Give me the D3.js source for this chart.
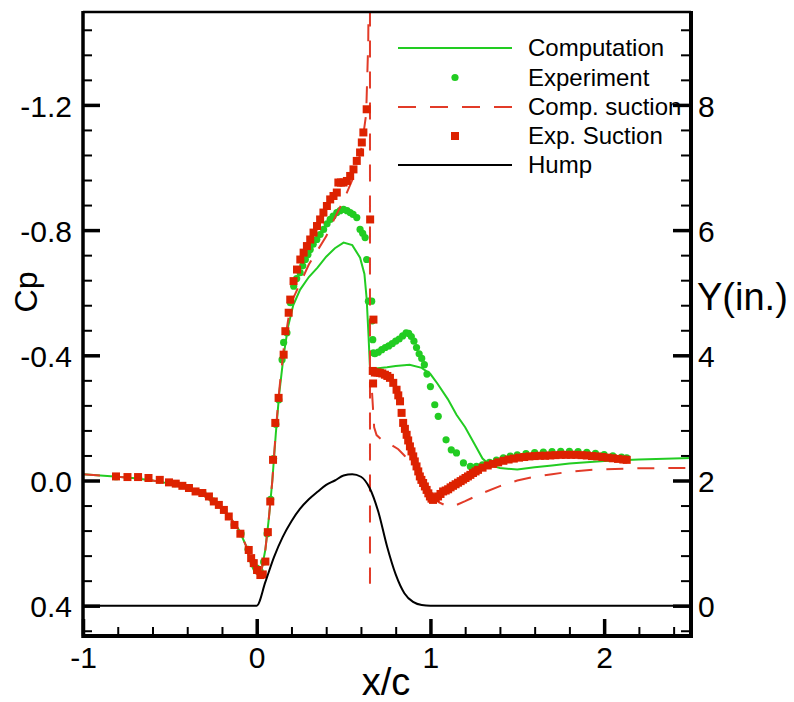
<!DOCTYPE html>
<html>
<head>
<meta charset="utf-8">
<script src="https://cdn.jsdelivr.net/npm/d3@7"></script>
<style>
  body { margin: 0; background: #fff; }
  text { font-family: "Liberation Sans", Arial, sans-serif; fill: #000; }
</style>
</head>
<body>
<div id="chart"></div>
<script>
// series: [x/c, Cp]  (hump is [x/c, Y in inches])
var computation = [
  [-1.0,-0.02],[-0.9,-0.016],[-0.8,-0.012],[-0.7,-0.007],[-0.6,0.0],[-0.5,0.01],[-0.4,0.025],
  [-0.3,0.05],[-0.2,0.09],[-0.15,0.12],[-0.1,0.16],[-0.06,0.21],[-0.03,0.27],[-0.01,0.295],
  [0.01,0.30],[0.03,0.28],[0.05,0.22],[0.07,0.12],[0.09,0.0],[0.11,-0.15],[0.13,-0.28],
  [0.155,-0.40],[0.18,-0.49],[0.21,-0.56],[0.25,-0.61],[0.3,-0.65],[0.35,-0.68],[0.4,-0.715],
  [0.45,-0.742],[0.5,-0.76],[0.55,-0.752],[0.595,-0.712],[0.62,-0.66],[0.633,-0.58],
  [0.643,-0.47],[0.652,-0.36],[0.673,-0.357],[0.75,-0.362],[0.8,-0.366],[0.88,-0.37],
  [0.95,-0.36],[1.0,-0.34],[1.04,-0.31],[1.1,-0.26],[1.15,-0.21],[1.2,-0.17],[1.26,-0.11],
  [1.3,-0.07],[1.34,-0.05],[1.4,-0.04],[1.5,-0.035],[1.6,-0.042],[1.7,-0.048],[1.8,-0.054],
  [1.9,-0.058],[2.0,-0.062],[2.2,-0.067],[2.5,-0.072]
];

var experiment = [
  [-0.81,-0.012],[-0.68,-0.01],[-0.56,-0.002],[-0.47,0.01],[-0.39,0.024],[-0.31,0.04],
  [-0.25,0.066],[-0.19,0.094],[-0.13,0.142],[-0.09,0.17],[-0.05,0.22],[-0.02,0.262],
  [0.0,0.28],[0.02,0.29],[0.04,0.26],[0.06,0.17],[0.08,0.06],[0.097,-0.07],[0.11,-0.18],
  [0.127,-0.258],[0.146,-0.386],[0.155,-0.441],[0.174,-0.472],[0.194,-0.568],[0.213,-0.621],
  [0.23,-0.645],[0.25,-0.664],[0.265,-0.686],[0.28,-0.706],[0.295,-0.722],[0.308,-0.738],
  [0.325,-0.755],[0.346,-0.77],[0.365,-0.786],[0.385,-0.802],[0.405,-0.82],[0.423,-0.834],
  [0.44,-0.845],[0.461,-0.856],[0.48,-0.862],[0.5,-0.866],[0.52,-0.862],[0.538,-0.856],
  [0.555,-0.85],[0.576,-0.84],[0.595,-0.802],[0.61,-0.79],[0.624,-0.776],[0.633,-0.706],
  [0.643,-0.573],[0.662,-0.573],[0.665,-0.51],[0.668,-0.45],[0.672,-0.408],[0.68,-0.405],
  [0.70,-0.41],[0.72,-0.418],[0.74,-0.425],[0.76,-0.43],[0.78,-0.437],[0.80,-0.445],
  [0.82,-0.452],[0.84,-0.462],[0.86,-0.472],[0.875,-0.47],[0.89,-0.46],[0.905,-0.445],
  [0.92,-0.425],[0.935,-0.405],[0.95,-0.39],[0.965,-0.37],[0.98,-0.34],[1.0,-0.30],
  [1.025,-0.242],[1.045,-0.205],[1.09,-0.13],[1.12,-0.098],[1.15,-0.088],[1.19,-0.056],
  [1.23,-0.045],[1.265,-0.045],[1.3,-0.05],[1.34,-0.058],[1.38,-0.065],[1.42,-0.072],
  [1.46,-0.078],[1.5,-0.082],[1.55,-0.086],[1.6,-0.089],[1.65,-0.091],[1.7,-0.092],
  [1.75,-0.093],[1.8,-0.093],[1.85,-0.092],[1.9,-0.09],[1.95,-0.087],[2.0,-0.083],
  [2.05,-0.079],[2.1,-0.075],[2.13,-0.072]
];

// null Cp = break in the curve just after the slot
var compSuction = [
  [-1.0,-0.02],[-0.9,-0.016],[-0.8,-0.012],[-0.7,-0.007],[-0.6,0.0],[-0.5,0.01],[-0.4,0.025],
  [-0.3,0.05],[-0.2,0.09],[-0.15,0.12],[-0.1,0.16],[-0.06,0.21],[-0.03,0.27],[-0.01,0.295],
  [0.01,0.30],[0.03,0.28],[0.05,0.22],[0.07,0.12],[0.09,0.0],[0.11,-0.16],[0.13,-0.29],
  [0.155,-0.42],[0.18,-0.51],[0.2,-0.57],[0.25,-0.63],[0.3,-0.69],[0.35,-0.735],[0.4,-0.78],
  [0.45,-0.84],[0.5,-0.895],[0.55,-0.96],[0.6,-1.05],[0.63,-1.17],[0.642,-1.4],[0.646,-1.7],
  [0.652,-1.7],[0.652,0.33],[0.655,null],[0.664,-0.28],[0.676,-0.17],[0.69,-0.145],
  [0.73,-0.125],[0.77,-0.115],[0.815,-0.1],[0.85,-0.08],[0.9,-0.05],[0.95,-0.01],[1.0,0.035],
  [1.05,0.07],[1.1,0.083],[1.15,0.078],[1.2,0.066],[1.3,0.04],[1.4,0.018],[1.5,0.0],
  [1.6,-0.012],[1.7,-0.02],[1.8,-0.028],[1.9,-0.033],[2.0,-0.036],[2.2,-0.039],[2.5,-0.04]
];

var expSuction = [
  [-0.81,-0.013],[-0.744,-0.011],[-0.683,-0.011],[-0.623,-0.008],[-0.558,-0.002],
  [-0.505,0.006],[-0.466,0.010],[-0.428,0.017],[-0.39,0.024],[-0.352,0.035],[-0.313,0.04],
  [-0.275,0.051],[-0.247,0.067],[-0.218,0.078],[-0.189,0.094],[-0.161,0.115],[-0.128,0.142],
  [-0.094,0.17],[-0.046,0.222],[-0.032,0.248],[-0.017,0.264],[0.002,0.286],[0.021,0.302],
  [0.035,0.30],[0.05,0.259],[0.064,0.165],[0.078,0.067],[0.094,-0.066],[0.107,-0.184],
  [0.126,-0.264],[0.155,-0.402],[0.165,-0.477],[0.184,-0.536],[0.193,-0.578],[0.212,-0.637],
  [0.232,-0.674],[0.251,-0.706],[0.27,-0.728],[0.289,-0.749],[0.308,-0.77],[0.327,-0.792],
  [0.347,-0.813],[0.365,-0.834],[0.384,-0.856],[0.404,-0.877],[0.423,-0.898],[0.442,-0.909],
  [0.461,-0.92],[0.47,-0.952],[0.485,-0.952],[0.5,-0.952],[0.519,-0.957],[0.538,-0.973],
  [0.557,-0.994],[0.576,-1.021],[0.595,-1.048],[0.605,-1.08],[0.614,-1.112],[0.633,-1.186],
  [0.653,-0.834],[0.672,-0.514],[0.668,-0.35],[0.67,-0.31],[0.68,-0.345],[0.695,-0.345],
  [0.709,-0.344],[0.723,-0.342],[0.738,-0.338],[0.752,-0.334],[0.767,-0.328],[0.786,-0.312],
  [0.805,-0.29],[0.815,-0.272],[0.825,-0.253],[0.834,-0.216],[0.843,-0.184],[0.853,-0.165],
  [0.863,-0.146],[0.872,-0.128],[0.882,-0.109],[0.891,-0.093],[0.901,-0.077],[0.91,-0.061],
  [0.92,-0.045],[0.93,-0.029],[0.939,-0.013],[0.948,-0.002],[0.958,0.008],[0.968,0.019],
  [0.978,0.03],[0.988,0.041],[0.997,0.051],[1.006,0.058],[1.015,0.062],[1.03,0.057],
  [1.044,0.051],[1.058,0.043],[1.073,0.035],[1.088,0.032],[1.102,0.028],[1.116,0.022],
  [1.13,0.017],[1.145,0.012],[1.159,0.007],[1.174,0.002],[1.188,-0.003],[1.202,-0.008],
  [1.216,-0.013],[1.23,-0.018],[1.245,-0.024],[1.26,-0.029],[1.274,-0.034],[1.3,-0.041],
  [1.33,-0.048],[1.36,-0.053],[1.39,-0.058],[1.42,-0.063],[1.45,-0.067],[1.48,-0.07],
  [1.51,-0.073],[1.54,-0.075],[1.57,-0.077],[1.6,-0.078],[1.63,-0.079],[1.66,-0.079],
  [1.69,-0.08],[1.72,-0.081],[1.75,-0.082],[1.78,-0.082],[1.81,-0.082],[1.84,-0.082],
  [1.87,-0.081],[1.9,-0.08],[1.93,-0.078],[1.96,-0.077],[1.99,-0.075],[2.02,-0.073],
  [2.05,-0.071],[2.08,-0.069],[2.11,-0.067],[2.13,-0.066]
];

var hump = [
  [-1.0,0],[0.0,0],[0.05,0.38],[0.1,0.78],[0.15,1.1],[0.2,1.35],[0.25,1.55],[0.3,1.7],
  [0.35,1.82],[0.4,1.93],[0.45,2.0],[0.5,2.08],[0.55,2.1],[0.6,2.06],[0.65,1.88],[0.7,1.5],
  [0.75,0.95],[0.8,0.5],[0.85,0.2],[0.9,0.06],[0.95,0.01],[1.0,0],[2.5,0]
];

var xTicks  = [-1, 0, 1, 2];
var cpTicks = [-1.2, -0.8, -0.4, 0.0, 0.4];
var yTicks  = [0, 2, 4, 6, 8];
var legendLabels = ["Computation", "Experiment", "Comp. suction", "Exp. Suction", "Hump"];

var green = "#22cc22", red = "#dd2200", redLine = "#e23b28";

var W = 794, H = 702;
var L = 83, R = 691, T = 11, B = 637;

var svg = d3.select("#chart").append("svg")
    .attr("width", W)
    .attr("height", H);

var x  = d3.scaleLinear().domain([-1, 2.5]).range([L, R]);
var cp = d3.scaleLinear().domain([-1.5, 0.5]).range([T, B]);
var yIn = d3.scaleLinear().domain([-0.5, 9.5]).range([B, T]);

// plain hyphen for negative labels, like the original
var hyphen = fmt => (d => d3.format(fmt)(d).replace("\u2212", "-"));

svg.append("clipPath").attr("id", "plotClip")
  .append("rect").attr("x", L).attr("y", T).attr("width", R - L).attr("height", B - T);

var plot = svg.append("g").attr("clip-path", "url(#plotClip)");

var cpLine = d3.line()
  .defined(d => d[1] != null)
  .x(d => x(d[0])).y(d => cp(d[1]));

// computation
plot.append("path").datum(computation)
  .attr("fill", "none").attr("stroke", green).attr("stroke-width", 2)
  .attr("d", cpLine);

// experiment dots
plot.selectAll(".expDot").data(experiment).enter().append("circle")
  .attr("class", "expDot")
  .attr("cx", d => x(d[0])).attr("cy", d => cp(d[1]))
  .attr("r", 3.6).attr("fill", green);

// computation with suction
plot.append("path").datum(compSuction)
  .attr("fill", "none").attr("stroke", redLine).attr("stroke-width", 2)
  .attr("stroke-dasharray", "17,14")
  .attr("d", cpLine);

// experiment with suction
plot.selectAll(".expSq").data(expSuction).enter().append("rect")
  .attr("class", "expSq")
  .attr("x", d => x(d[0]) - 4).attr("y", d => cp(d[1]) - 4)
  .attr("width", 8).attr("height", 8).attr("fill", red);

// hump geometry on the right axis
plot.append("path").datum(hump)
  .attr("fill", "none").attr("stroke", "#000").attr("stroke-width", 2)
  .attr("d", d3.line().curve(d3.curveMonotoneX).x(d => x(d[0])).y(d => yIn(d[1])));

// axes (ticks point inward)
var font = 30;
var gx = svg.append("g").attr("transform", "translate(0," + (B - 1) + ")")
  .call(d3.axisBottom(x).tickValues(xTicks).tickSize(-17).tickPadding(11).tickFormat(hyphen("d")));
svg.append("g").attr("transform", "translate(0," + (B - 1) + ")")
  .call(d3.axisBottom(x).tickValues(d3.range(-0.8, 2.5, 0.2).filter(v => Math.abs(v - Math.round(v)) > 0.01)).tickSize(-9).tickFormat(""));

var gl = svg.append("g").attr("transform", "translate(" + L + ",0)")
  .call(d3.axisLeft(cp).tickValues(cpTicks).tickSize(-17).tickPadding(11).tickFormat(hyphen(".1f")));
svg.append("g").attr("transform", "translate(" + L + ",0)")
  .call(d3.axisLeft(cp).tickValues(d3.range(-1.44, 0.5, 0.08).filter(v => Math.abs(v / 0.4 - Math.round(v / 0.4)) > 0.01)).tickSize(-9).tickFormat(""));

var gr = svg.append("g").attr("transform", "translate(" + R + ",0)")
  .call(d3.axisRight(yIn).tickValues(yTicks).tickSize(-18).tickPadding(7).tickFormat(d3.format("d")));
svg.append("g").attr("transform", "translate(" + R + ",0)")
  .call(d3.axisRight(yIn).tickValues(d3.range(-0.4, 9.5, 0.4).filter(v => Math.abs(v / 2 - Math.round(v / 2)) > 0.01)).tickSize(-10).tickFormat(""));

svg.selectAll(".domain").remove();
svg.selectAll(".tick line").attr("stroke", "#000").attr("stroke-width", 2);
[gx, gl, gr].forEach(g => g.selectAll(".tick line").attr("stroke-width", 3.5));
svg.selectAll(".tick text").attr("font-size", font).attr("font-family", "Liberation Sans, Arial, sans-serif").attr("fill", "#000");
gl.selectAll(".tick text").attr("dy", "0.37em");
gr.selectAll(".tick text").attr("dy", "0.37em");

// frame
svg.append("line").attr("x1", L).attr("x2", R).attr("y1", T + 1).attr("y2", T + 1).attr("stroke", "#000").attr("stroke-width", 2.5);
svg.append("line").attr("x1", L).attr("x2", R + 2).attr("y1", B - 1).attr("y2", B - 1).attr("stroke", "#000").attr("stroke-width", 4);
svg.append("line").attr("x1", L).attr("x2", L).attr("y1", T).attr("y2", B + 1).attr("stroke", "#000").attr("stroke-width", 3.5);
svg.append("line").attr("x1", R).attr("x2", R).attr("y1", T).attr("y2", B + 1).attr("stroke", "#000").attr("stroke-width", 4);

// axis titles
svg.append("text").attr("x", 386).attr("y", 695).attr("text-anchor", "middle").attr("font-size", 38).text("x/c");
svg.append("text").attr("transform", "translate(37,292) rotate(-90)").attr("text-anchor", "middle").attr("font-size", 32).text("Cp");
svg.append("text").attr("x", 697).attr("y", 310).attr("font-size", 38).text("Y(in.)");

// legend
var lg = svg.append("g");
var rowY = [48, 77.5, 107, 136, 165];
legendLabels.forEach(function(label, i) {
  var yy = rowY[i];
  if (i == 0 || i == 2 || i == 4) {
    lg.append("line").attr("x1", 398).attr("x2", 512).attr("y1", yy).attr("y2", yy)
      .attr("stroke", i == 0 ? green : (i == 2 ? redLine : "#000")).attr("stroke-width", 2)
      .attr("stroke-dasharray", i == 2 ? "18,14" : null);
  } else if (i == 1) {
    lg.append("circle").attr("cx", 455).attr("cy", yy).attr("r", 3.6).attr("fill", green);
  } else {
    lg.append("rect").attr("x", 451).attr("y", yy - 4).attr("width", 8).attr("height", 8).attr("fill", red);
  }
  lg.append("text").attr("x", 528).attr("y", yy + 8).attr("font-size", 24).text(label);
});
</script>
</body>
</html>
